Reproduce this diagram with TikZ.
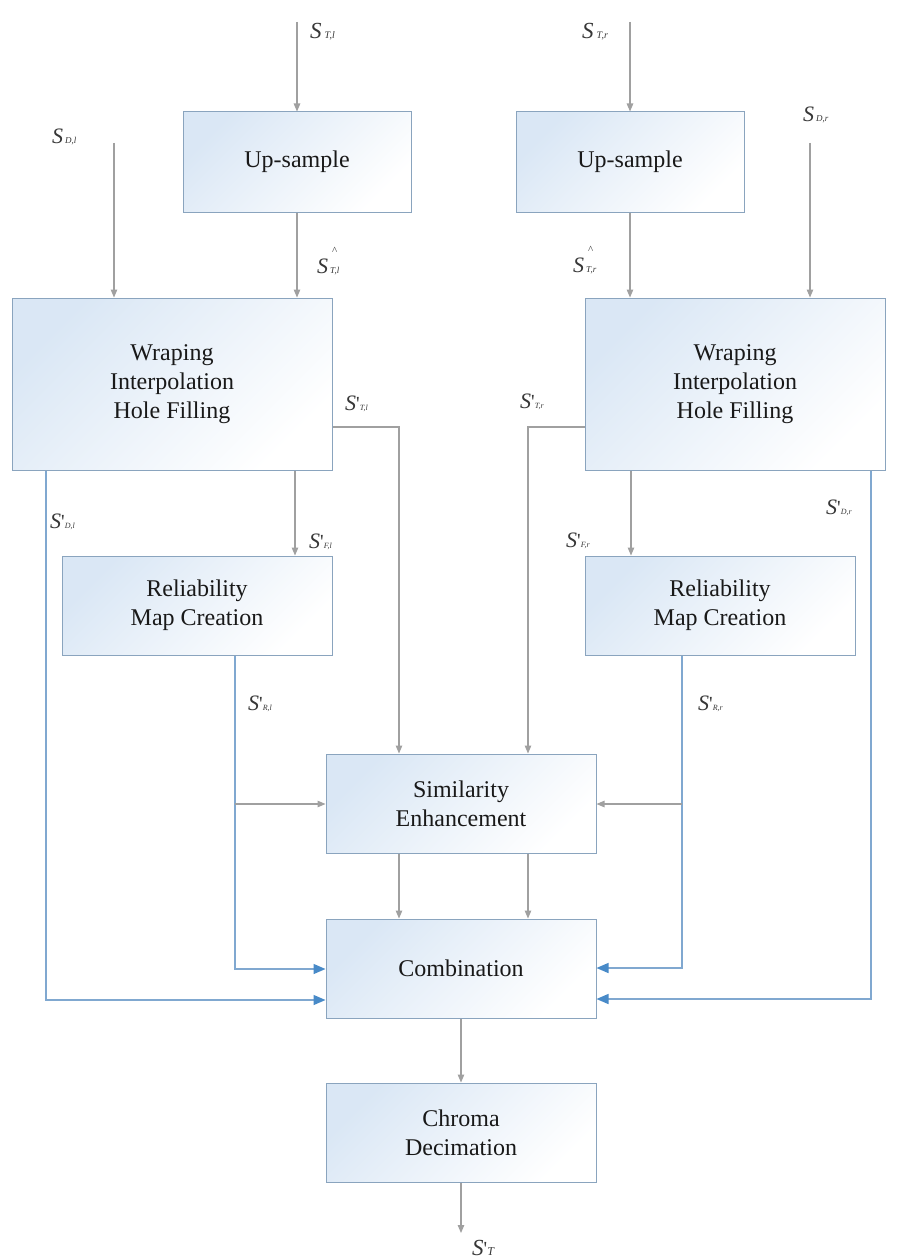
\documentclass[tikz,border=0pt]{standalone}
\usepackage{fontspec}
\setmainfont{Liberation Serif}
\usetikzlibrary{arrows.meta,calc}

\definecolor{boxedge}{RGB}{138,164,190}
\definecolor{boxblue}{RGB}{218,231,245}
\definecolor{boxmid}{RGB}{240,245,251}
\definecolor{wirecol}{RGB}{160,160,160}
\definecolor{bluewire}{RGB}{128,168,208}
\definecolor{bluehead}{RGB}{72,138,200}
\definecolor{labcol}{RGB}{55,55,55}

% signal labels: S, optional mark, subscript
\newcommand{\sigS}[1][22]{{\fontsize{#1}{#1}\selectfont\itshape S}}
\newcommand{\sub}[2][9]{{\fontsize{#1}{#1}\selectfont\itshape #2}}
\newcommand{\prm}{{\fontsize{20}{20}\selectfont\textquotesingle}}
\newcommand{\hatmk}{\rlap{\hspace{4pt}\raisebox{19pt}{\fontsize{11}{11}\selectfont\textasciicircum}}}

\begin{document}
\begin{tikzpicture}[x=1pt,y=-1pt,
  stage/.style={draw=boxedge, line width=1pt, left color=boxblue, middle color=boxmid,
    right color=white, shading angle=45, align=center, inner sep=0pt, text=black!90,
    font=\fontsize{24}{29}\selectfont},
  wire/.style={draw=wirecol, line width=1.1pt, -{Triangle[length=8pt,width=6.5pt]}},
  bwire/.style={draw=bluewire, line width=1.4pt, -{Triangle[length=12pt,width=10pt,color=bluehead]}},
  lab/.style={anchor=base west, inner sep=0pt, text=labcol}]

\fill[white] (0,0) rectangle (897,1260);
\useasboundingbox (0,0) rectangle (897,1260);

% processing stages
\node[stage, minimum width=228pt, minimum height=100pt] (up1) at (297,162) {Up-sample};
\node[stage, minimum width=228pt, minimum height=100pt] (up2) at (630,162) {Up-sample};
\node[stage, minimum width=320pt, minimum height=172pt] (wr1) at (172,384) {Wraping\\Interpolation\\Hole Filling};
\node[stage, minimum width=300pt, minimum height=172pt] (wr2) at (735,384) {Wraping\\Interpolation\\Hole Filling};
\node[stage, minimum width=270pt, minimum height=99pt] (rel1) at (197,605.5) {Reliability\\Map Creation};
\node[stage, minimum width=270pt, minimum height=99pt] (rel2) at (720,605.5) {Reliability\\Map Creation};
\node[stage, minimum width=270pt, minimum height=99pt] (sim) at (461,803.5) {Similarity\\Enhancement};
\node[stage, minimum width=270pt, minimum height=99pt] (comb) at (461,968.5) {Combination};
\node[stage, minimum width=270pt, minimum height=99pt] (chroma) at (461,1132.5) {Chroma\\Decimation};

% routing points
\coordinate (inTl) at (297,22);
\coordinate (inTr) at (630,22);
\coordinate (inDl) at (114,143);
\coordinate (inDr) at (810,143);
\coordinate (xTl) at (399,427);
\coordinate (xTr) at (528,427);
\coordinate (xFl) at (295,0);
\coordinate (xFr) at (631,0);
\coordinate (xDl) at (46,1000);
\coordinate (xDr) at (871,999);
\coordinate (xRl) at (235,969);
\coordinate (xRr) at (682,968);
\coordinate (bRl) at (235,804);
\coordinate (bRr) at (682,804);
\coordinate (outT) at (461,1233);

% inputs
\draw[wire] (inTl) -- (inTl |- up1.north);
\draw[wire] (inTr) -- (inTr |- up2.north);
\draw[wire] (inDl) -- (inDl |- wr1.north);
\draw[wire] (inDr) -- (inDr |- wr2.north);
\draw[wire] (up1.south) -- (up1.south |- wr1.north);
\draw[wire] (up2.south) -- (up2.south |- wr2.north);

% warped texture to similarity enhancement
\draw[wire] (wr1.east |- xTl) -- (xTl) -- (xTl |- sim.north);
\draw[wire] (wr2.west |- xTr) -- (xTr) -- (xTr |- sim.north);

% warped frame to reliability map
\draw[wire] (wr1.south -| xFl) -- (xFl |- rel1.north);
\draw[wire] (wr2.south -| xFr) -- (xFr |- rel2.north);

% warped depth to combination
\draw[bwire] (wr1.south -| xDl) -- (xDl) -- (xDl -| comb.west);
\draw[bwire] (wr2.south -| xDr) -- (xDr) -- (xDr -| comb.east);

% reliability maps
\draw[bwire] (rel1.south -| xRl) -- (xRl) -- (xRl -| comb.west);
\draw[bwire] (rel2.south -| xRr) -- (xRr) -- (xRr -| comb.east);
\draw[wire] (bRl) -- (bRl -| sim.west);
\draw[wire] (bRr) -- (bRr -| sim.east);

% similarity to combination, then output chain
\draw[wire] (sim.south -| xTl) -- (xTl |- comb.north);
\draw[wire] (sim.south -| xTr) -- (xTr |- comb.north);
\draw[wire] (comb.south) -- (chroma.north);
\draw[wire] (chroma.south) -- (outT);

% signal labels
\node[lab] (lTl) at (310,39) {\sigS[23]\hspace{3pt}\sub[10]{T,l}};
\node[lab] (lTr) at (582,39) {\sigS[23]\hspace{3pt}\sub[10]{T,r}};
\node[lab] (lDl) at (52,144) {\sigS\hspace{2pt}\sub{D,l}};
\node[lab] (lDr) at (803,122) {\sigS\hspace{2pt}\sub{D,r}};
\node[lab] (lHl) at (317,273) {\sigS\hatmk\hspace{2pt}\sub{T,l}};
\node[lab] (lHr) at (573,272) {\sigS\hatmk\hspace{2pt}\sub{T,r}};
\node[lab] (lPTl) at (345,410) {\sigS\prm\sub[8]{T,l}};
\node[lab] (lPTr) at (520,408) {\sigS\prm\sub[8]{T,r}};
\node[lab] (lPDl) at (50,528) {\sigS\prm\sub[8]{D,l}};
\node[lab] (lPDr) at (826,514) {\sigS\prm\sub[8]{D,r}};
\node[lab] (lPFl) at (309,548) {\sigS\prm\sub[8]{F,l}};
\node[lab] (lPFr) at (566,547) {\sigS\prm\sub[8]{F,r}};
\node[lab] (lPRl) at (248,710) {\sigS\prm\sub[8]{R,l}};
\node[lab] (lPRr) at (698,710) {\sigS\prm\sub[8]{R,r}};
\node[lab] (lOut) at (472,1255) {\sigS[23]\prm\sub[12]{T}};
\end{tikzpicture}
\end{document}
